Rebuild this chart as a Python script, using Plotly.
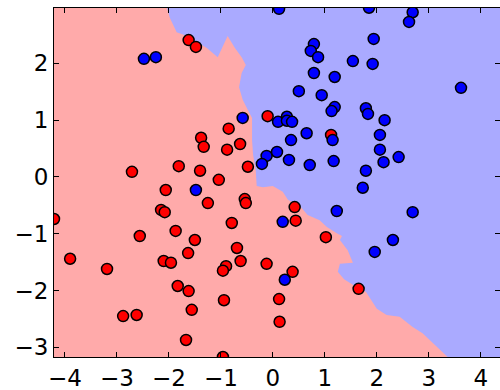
import plotly.graph_objects as go

# --- data ---
red_x = [-1.62, -1.48, -0.85, -1.38, -1.33, -0.88, -0.63, -0.10, -2.71, -1.81,
         -1.40, -1.04, -0.48, -2.06, -1.25, -0.54, -0.52, -2.15, -2.08, -0.79,
         -4.21, -1.87, -2.56, -1.50, -3.90, -3.19, -2.10, -1.96, -1.63, -0.69,
         -0.62, -0.90, -0.96, -0.12, -1.83, -1.62, -0.94, -1.56, -2.88, -2.62,
         -1.67, -0.96, 0.12, 0.13, 0.38, 0.42, 0.44, 1.02, 1.65, 1.12]
red_y = [2.41, 2.29, 0.85, 0.69, 0.53, 0.48, 0.58, 1.07, 0.09, 0.19,
         0.11, -0.05, 0.18, -0.23, -0.46, -0.39, -0.46, -0.58, -0.62, -0.81,
         -0.74, -0.95, -1.04, -1.11, -1.44, -1.62, -1.48, -1.51, -1.34, -1.25,
         -1.48, -1.57, -1.65, -1.53, -1.92, -2.01, -2.17, -2.34, -2.45, -2.43,
         -2.87, -3.17, -2.15, -2.55, -1.67, -0.53, -0.77, -1.06, -1.97, 0.74]

blue_x = [-2.48, -2.25, -0.58, -1.48, -0.12, -0.21, 0.19, 1.23, 2.69, 2.31,
          1.96, 0.23, 1.73, 0.12, 1.85, 2.69, 2.62, 1.94, 0.79, 0.73,
          0.87, 1.54, 1.92, 0.79, 1.19, 0.50, 0.94, 3.62, 1.19, 1.13,
          1.79, 1.83, 2.15, 0.10, 0.27, 0.27, 0.37, 0.65, 1.15, 0.35,
          2.06, 2.06, 2.42, 2.13, 0.08, 0.31, 0.71, 1.17, 1.79]
blue_y = [2.08, 2.11, 1.04, -0.23, 0.37, 0.23, -0.79, -0.60, -0.62, -1.11,
          -1.32, -1.81, -0.19, 2.96, 2.98, 2.90, 2.73, 2.43, 2.34, 2.22,
          2.11, 2.04, 1.99, 1.83, 1.76, 1.51, 1.44, 1.57, 1.23, 1.16,
          1.21, 1.11, 1.00, 0.97, 1.06, 0.99, 0.97, 0.77, 0.65, 0.65,
          0.74, 0.48, 0.35, 0.26, 0.44, 0.30, 0.21, 0.28, 0.11]

# decision boundary between the red (left/bottom) and blue (right/top) regions
bound_x = [-2.06, -1.98, -1.85, -1.65, -1.44, -1.27, -1.06, -0.87, -0.73, -0.60,
           -0.52, -0.60, -0.65, -0.58, -0.48, -0.40, -0.40, -0.38, -0.33, -0.31,
           -0.19, 0.00, 0.19, 0.29, 0.52, 0.67, 0.90, 1.04, 1.23, 1.33,
           1.29, 1.44, 1.54, 1.29, 1.25, 1.37, 1.54, 1.79, 2.00, 2.19,
           2.44, 2.69, 2.88, 3.08, 3.27, 3.42]
bound_y = [3.05, 2.80, 2.55, 2.48, 2.36, 2.27, 2.11, 2.48, 2.27, 2.11,
           1.97, 1.83, 1.58, 1.36, 1.18, 1.04, 0.65, 0.39, 0.12, -0.16,
           -0.18, -0.16, -0.26, -0.40, -0.51, -0.67, -0.76, -0.88, -0.99, -1.04,
           -1.11, -1.29, -1.51, -1.53, -1.67, -1.80, -1.90, -2.02, -2.32, -2.43,
           -2.46, -2.64, -2.75, -2.92, -3.08, -3.22]

x_range = [-4.21, 4.37]
y_range = [-3.17, 2.975]
x_ticks = [-4, -3, -2, -1, 0, 1, 2, 3, 4]
y_ticks = [-3, -2, -1, 0, 1, 2]

fig = go.Figure()

# red region polygon: left edge + boundary
poly_x = [x_range[0] - 0.1] + bound_x + [x_range[0] - 0.1]
poly_y = [bound_y[0]] + bound_y + [bound_y[-1]]
fig.add_trace(go.Scatter(x=poly_x, y=poly_y, fill="toself", fillcolor="#FFAAAA",
                         mode="lines", line=dict(width=0, color="#FFAAAA"),
                         hoverinfo="skip", showlegend=False))

fig.add_trace(go.Scatter(x=red_x, y=red_y, mode="markers", showlegend=False,
                         marker=dict(size=11, color="#FF0000",
                                     line=dict(color="black", width=1.5))))
fig.add_trace(go.Scatter(x=blue_x, y=blue_y, mode="markers", showlegend=False,
                         marker=dict(size=11, color="#0000FF",
                                     line=dict(color="black", width=1.5))))

axis_common = dict(showgrid=False, zeroline=False, showline=True, linecolor="black",
                   linewidth=1, mirror="allticks", ticks="inside", ticklen=5,
                   tickwidth=1, tickcolor="black", automargin=False,
                   tickfont=dict(family="DejaVu Sans", size=23, color="black"))

fig.update_xaxes(range=x_range, tickvals=x_ticks, **axis_common)
fig.update_yaxes(range=y_range, tickvals=y_ticks, **axis_common)

fig.update_layout(width=500, height=390, margin=dict(l=54, r=0, t=8, b=33),
                  plot_bgcolor="#AAAAFF", paper_bgcolor="white")

fig.write_html("out.html", config={"displayModeBar": False},
               post_script="document.body.style.margin='0';document.body.style.overflow='hidden';")
